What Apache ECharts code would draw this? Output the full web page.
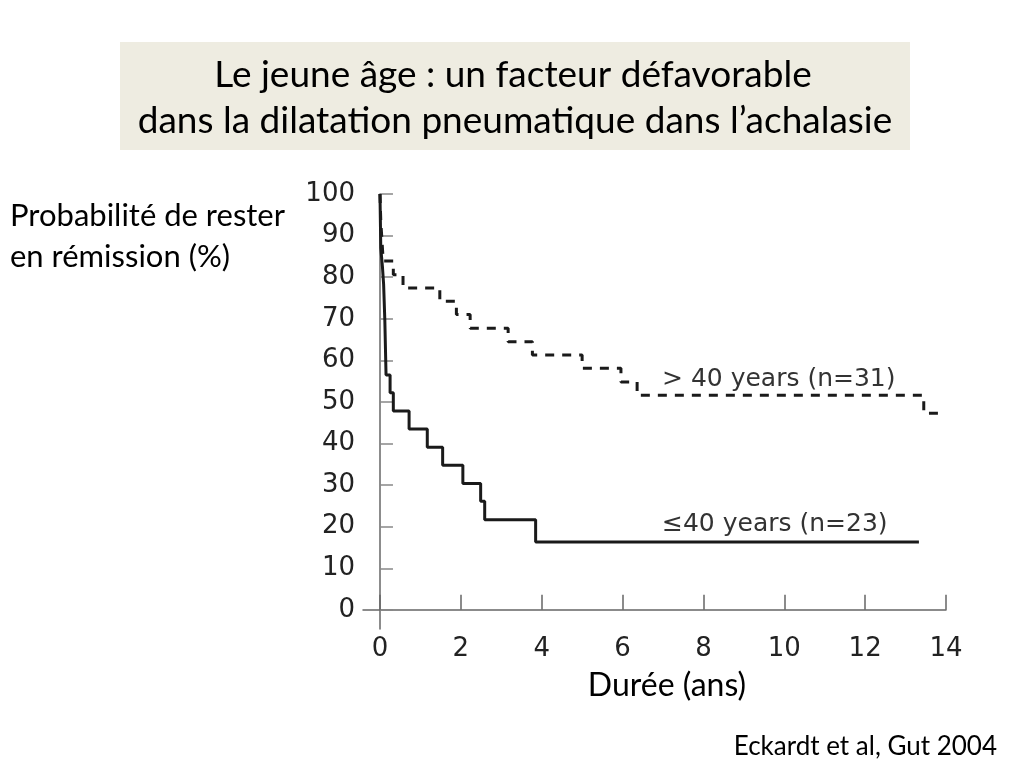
<!DOCTYPE html>
<html>
<head>
<meta charset="utf-8">
<script src="https://cdn.jsdelivr.net/npm/echarts@6/dist/echarts.min.js"></script>
<style>
html,body{margin:0;padding:0;background:#fff;}
#chart{width:1024px;height:768px;}
</style>
</head>
<body>
<div id="chart"></div>
<script>
// ≤40 years (n=23): time (years) and survival after each event (%)
var youngTimes = [0, 0.02, 0.06, 0.09, 0.12, 0.15, 0.25, 0.33, 0.72, 1.17, 1.55, 2.05, 2.49, 2.59, 3.85, 13.33];
var youngSurv  = [100, 87.0, 82.6, 78.3, 69.6, 56.5, 52.2, 47.8, 43.5, 39.1, 34.8, 30.4, 26.1, 21.7, 16.3, 16.3];
// >40 years (n=31)
var oldTimes = [0, 0.02, 0.04, 0.06, 0.08, 0.33, 0.57, 1.48, 1.89, 2.23, 3.17, 3.77, 5.0, 5.96, 6.36, 13.45, 13.8];
var oldSurv  = [100, 93.5, 90.3, 87.1, 83.9, 80.6, 77.4, 74.2, 71.0, 67.7, 64.5, 61.3, 58.1, 54.8, 51.6, 47.3, 47.3];

var xTicks = [0, 2, 4, 6, 8, 10, 12, 14];
var yTicks = [0, 10, 20, 30, 40, 50, 60, 70, 80, 90, 100];

var titleLines = ['Le jeune âge : un facteur défavorable', 'dans la dilatation pneumatique dans l’achalasie'];
var yName = ['Probabilité de rester', 'en rémission (%)'];
var xName = 'Durée (ans)';
var labelOld = '> 40 years (n=31)';
var labelYoung = '≤40 years (n=23)';
var source = 'Eckardt et al, Gut 2004';

function pairs(t, s) { return t.map(function (v, i) { return [v, s[i]]; }); }

var chart = echarts.init(document.getElementById('chart'));
var tickFont = 'DejaVu Sans';
var textFont = 'Lato';
chart.setOption({
  animation: false,
  backgroundColor: '#ffffff',
  grid: { left: 363, right: 78, top: 194, bottom: 139, containLabel: false },
  xAxis: {
    type: 'value', min: -0.42, max: 14,
    axisLine: { show: true, lineStyle: { color: '#666', width: 1.5 } },
    axisTick: { show: true, inside: true, length: 15, customValues: xTicks, lineStyle: { color: '#666', width: 1.5 } },
    axisLabel: { customValues: xTicks, color: '#222', fontFamily: tickFont, fontSize: 26, margin: 7 },
    splitLine: { show: false }
  },
  yAxis: {
    type: 'value', min: -4.6, max: 100,
    axisLine: { show: true, lineStyle: { color: '#666', width: 1.5 } },
    axisTick: { show: true, inside: true, length: 13, customValues: yTicks, lineStyle: { color: '#888', width: 1.5 } },
    axisLabel: { customValues: yTicks, color: '#222', fontFamily: tickFont, fontSize: 26, margin: 8 },
    splitLine: { show: false }
  },
  series: [
    {
      type: 'line', step: 'end', symbol: 'none', data: pairs(oldTimes, oldSurv),
      lineStyle: { color: '#1a1a1a', width: 3, type: [9, 8] }
    },
    {
      type: 'line', step: 'end', symbol: 'none', data: pairs(youngTimes, youngSurv),
      lineStyle: { color: '#1a1a1a', width: 3, type: 'solid' }
    }
  ],
  graphic: [
    { type: 'rect', left: 120, top: 42, shape: { width: 790, height: 108 }, style: { fill: '#eeece1' }, z: 0 },
    { type: 'text', x: 513, y: 75, style: { text: titleLines[0], font: '37px ' + textFont, fill: '#000', textAlign: 'center', textVerticalAlign: 'middle' } },
    { type: 'text', x: 515, y: 121, style: { text: titleLines[1], font: '37px ' + textFont, fill: '#000', textAlign: 'center', textVerticalAlign: 'middle' } },
    { type: 'text', x: 10, y: 216, style: { text: yName[0], font: '31px ' + textFont, fill: '#000', textAlign: 'left', textVerticalAlign: 'middle' } },
    { type: 'text', x: 10, y: 257, style: { text: yName[1], font: '31px ' + textFont, fill: '#000', textAlign: 'left', textVerticalAlign: 'middle' } },
    { type: 'text', x: 667, y: 686, style: { text: xName, font: '32px ' + textFont, fill: '#000', textAlign: 'center', textVerticalAlign: 'middle' } },
    { type: 'text', x: 997, y: 747, style: { text: source, font: '26px ' + textFont, fill: '#000', textAlign: 'right', textVerticalAlign: 'middle' } },
    { type: 'text', x: 662, y: 379, style: { text: labelOld, font: '25px ' + tickFont, fill: '#333', textAlign: 'left', textVerticalAlign: 'middle' } },
    { type: 'text', x: 662, y: 524, style: { text: labelYoung, font: '25px ' + tickFont, fill: '#333', textAlign: 'left', textVerticalAlign: 'middle' } }
  ]
});
</script>
</body>
</html>
